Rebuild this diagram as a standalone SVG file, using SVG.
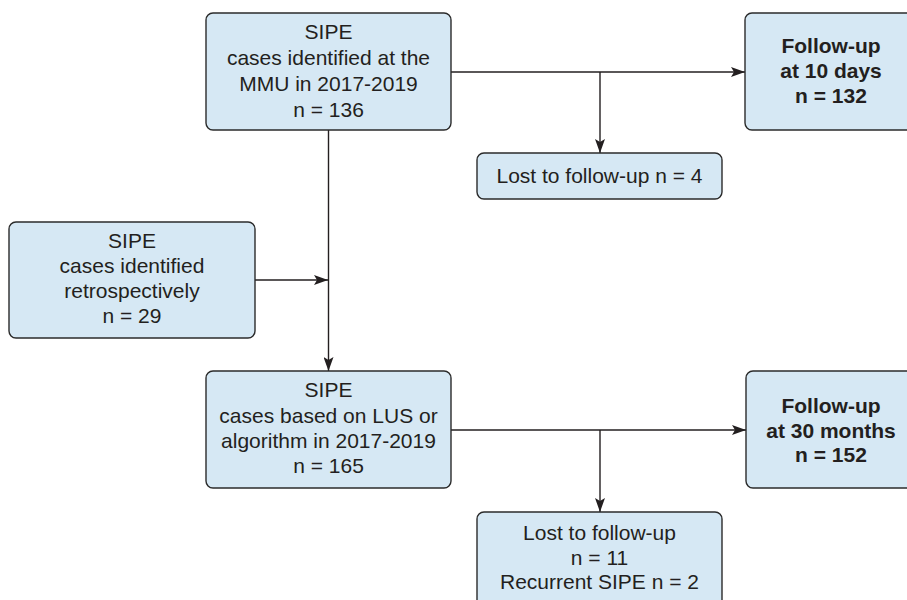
<svg xmlns="http://www.w3.org/2000/svg" width="907" height="600" viewBox="0 0 907 600">
<defs>
<style>
.box{fill:#d6e8f4;stroke:#2b2b2b;stroke-width:1.4}
.t{font-family:"Liberation Sans",Arial,sans-serif;font-size:21px;fill:#231f20;text-anchor:middle}
.b{font-weight:bold}
.c{fill:none;stroke:#231f20;stroke-width:1.4}
</style>
<marker id="ah" viewBox="0 0 14 10" refX="14" refY="5" markerWidth="14" markerHeight="10" markerUnits="userSpaceOnUse" orient="auto">
<path d="M0,0 L14,5 L0,10 L3,5 Z" fill="#231f20"/>
</marker>
</defs>
<rect width="907" height="600" fill="#ffffff"/>
<g id="connectors">
<path class="c" d="M451,72 H745" marker-end="url(#ah)"/>
<path class="c" d="M600,72 V153" marker-end="url(#ah)"/>
<path class="c" d="M328.5,130 V371" marker-end="url(#ah)"/>
<path class="c" d="M255,280 H328" marker-end="url(#ah)"/>
<path class="c" d="M451,430 H746" marker-end="url(#ah)"/>
<path class="c" d="M600,430 V512" marker-end="url(#ah)"/>
</g>
<g id="n1">
<rect class="box" x="206" y="13" width="245" height="117" rx="7"/>
<text class="t" x="328.5" y="39">SIPE</text>
<text class="t" x="328.5" y="65">cases identified at the</text>
<text class="t" x="328.5" y="91">MMU in 2017-2019</text>
<text class="t" x="328.5" y="117">n = 136</text>
</g>
<g id="n2">
<rect class="box" x="745" y="13" width="175" height="117" rx="7"/>
<text class="t b" x="831" y="53">Follow-up</text>
<text class="t b" x="831" y="78">at 10 days</text>
<text class="t b" x="831" y="103">n = 132</text>
</g>
<g id="n3">
<rect class="box" x="477" y="153" width="245" height="46" rx="7"/>
<text class="t" x="599.5" y="183">Lost to follow-up n = 4</text>
</g>
<g id="n4">
<rect class="box" x="9" y="222" width="246" height="116" rx="7"/>
<text class="t" x="132" y="248">SIPE</text>
<text class="t" x="132" y="273">cases identified</text>
<text class="t" x="132" y="298">retrospectively</text>
<text class="t" x="132" y="323">n = 29</text>
</g>
<g id="n5">
<rect class="box" x="206" y="371" width="245" height="117" rx="7"/>
<text class="t" x="328.5" y="397">SIPE</text>
<text class="t" x="328.5" y="423">cases based on LUS or</text>
<text class="t" x="328.5" y="448">algorithm in 2017-2019</text>
<text class="t" x="328.5" y="473">n = 165</text>
</g>
<g id="n6">
<rect class="box" x="746" y="371" width="175" height="117" rx="7"/>
<text class="t b" x="831" y="413">Follow-up</text>
<text class="t b" x="831" y="438">at 30 months</text>
<text class="t b" x="831" y="462">n = 152</text>
</g>
<g id="n7">
<rect class="box" x="477" y="512" width="245" height="110" rx="7"/>
<text class="t" x="599.5" y="540">Lost to follow-up</text>
<text class="t" x="599.5" y="565">n = 11</text>
<text class="t" x="599.5" y="589">Recurrent SIPE n = 2</text>
</g>
</svg>
